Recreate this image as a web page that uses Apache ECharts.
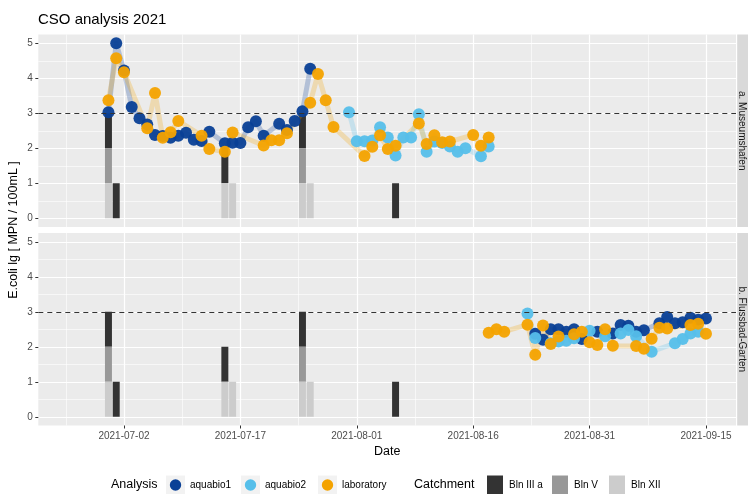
<!DOCTYPE html>
<html>
<head>
<meta charset="utf-8">
<script src="https://cdn.jsdelivr.net/npm/echarts@6.0.0/dist/echarts.min.js"></script>
<style>
  html, body { margin: 0; padding: 0; background: #ffffff; }
  #chart { width: 748px; height: 494px; }
</style>
</head>
<body>
<div id="chart"></div>
<script>
// ---- data -------------------------------------------------------------
const facetNames = ['a. Museumshafen', 'b. Flussbad-Garten'];
const analysisNames = ['aquabio1', 'aquabio2', 'laboratory'];
const analysisColors = ['#0a4096', '#56bfea', '#f4a300'];
const catchmentNames = ['Bln III a', 'Bln V', 'Bln XII'];
const catchmentColors = ['#333333', '#989898', '#cccccc'];

// E.coli lg [MPN/100mL] per sampling day
const museumAquabio1 = [
  ['2021-06-30', 3.03], ['2021-07-01', 5.0], ['2021-07-02', 4.22], ['2021-07-03', 3.18],
  ['2021-07-04', 2.86], ['2021-07-05', 2.68], ['2021-07-06', 2.38], ['2021-07-07', 2.35],
  ['2021-07-08', 2.3], ['2021-07-09', 2.36], ['2021-07-10', 2.44], ['2021-07-11', 2.24],
  ['2021-07-12', 2.21], ['2021-07-13', 2.47], ['2021-07-15', 2.14], ['2021-07-16', 2.16],
  ['2021-07-17', 2.15], ['2021-07-18', 2.6], ['2021-07-19', 2.77], ['2021-07-20', 2.36],
  ['2021-07-22', 2.7], ['2021-07-23', 2.52], ['2021-07-24', 2.78], ['2021-07-25', 3.06],
  ['2021-07-26', 4.27]
];
const museumAquabio2 = [
  ['2021-07-31', 3.03], ['2021-08-01', 2.2], ['2021-08-02', 2.2], ['2021-08-03', 2.22],
  ['2021-08-04', 2.6], ['2021-08-05', 2.31], ['2021-08-06', 1.79], ['2021-08-07', 2.31],
  ['2021-08-08', 2.31], ['2021-08-09', 2.97], ['2021-08-10', 1.9], ['2021-08-11', 2.19],
  ['2021-08-12', 2.15], ['2021-08-13', 2.05], ['2021-08-14', 1.9], ['2021-08-15', 2.0],
  ['2021-08-17', 1.77], ['2021-08-18', 2.05]
];
const museumLaboratory = [
  ['2021-06-30', 3.37], ['2021-07-01', 4.57], ['2021-07-02', 4.17], ['2021-07-05', 2.57],
  ['2021-07-06', 3.58], ['2021-07-07', 2.3], ['2021-07-08', 2.46], ['2021-07-09', 2.78],
  ['2021-07-12', 2.36], ['2021-07-13', 1.98], ['2021-07-15', 1.9], ['2021-07-16', 2.45],
  ['2021-07-20', 2.08], ['2021-07-21', 2.23], ['2021-07-22', 2.23], ['2021-07-23', 2.43],
  ['2021-07-26', 3.3], ['2021-07-27', 4.12], ['2021-07-28', 3.37], ['2021-07-29', 2.61],
  ['2021-08-02', 1.78], ['2021-08-03', 2.04], ['2021-08-04', 2.37], ['2021-08-05', 1.98],
  ['2021-08-06', 2.07], ['2021-08-09', 2.71], ['2021-08-10', 2.12], ['2021-08-11', 2.37],
  ['2021-08-12', 2.17], ['2021-08-13', 2.19], ['2021-08-16', 2.38], ['2021-08-17', 2.07],
  ['2021-08-18', 2.31]
];
const flussbadAquabio1 = [
  ['2021-08-24', 2.37], ['2021-08-25', 2.2], ['2021-08-26', 2.5], ['2021-08-27', 2.5],
  ['2021-08-28', 2.43], ['2021-08-29', 2.5], ['2021-08-30', 2.22], ['2021-09-01', 2.43],
  ['2021-09-03', 2.38], ['2021-09-04', 2.62], ['2021-09-05', 2.6], ['2021-09-06', 2.43],
  ['2021-09-07', 2.47], ['2021-09-09', 2.67], ['2021-09-10', 2.85], ['2021-09-11', 2.67],
  ['2021-09-12', 2.7], ['2021-09-13', 2.83], ['2021-09-14', 2.77], ['2021-09-15', 2.81]
];
const flussbadAquabio2 = [
  ['2021-08-23', 2.95], ['2021-08-24', 2.25], ['2021-08-26', 2.1], ['2021-08-27', 2.15],
  ['2021-08-28', 2.17], ['2021-08-29', 2.24], ['2021-08-31', 2.46], ['2021-09-02', 2.3],
  ['2021-09-04', 2.38], ['2021-09-05', 2.48], ['2021-09-06', 2.3], ['2021-09-08', 1.86],
  ['2021-09-11', 2.1], ['2021-09-12', 2.22], ['2021-09-13', 2.38], ['2021-09-14', 2.43]
];
const flussbadLaboratory = [
  ['2021-08-18', 2.4], ['2021-08-19', 2.5], ['2021-08-20', 2.43], ['2021-08-23', 2.63],
  ['2021-08-24', 1.77], ['2021-08-25', 2.61], ['2021-08-26', 2.08], ['2021-08-27', 2.29],
  ['2021-08-29', 2.36], ['2021-08-30', 2.43], ['2021-08-31', 2.13], ['2021-09-01', 2.05],
  ['2021-09-02', 2.5], ['2021-09-03', 2.03], ['2021-09-06', 2.02], ['2021-09-07', 1.94],
  ['2021-09-08', 2.23], ['2021-09-09', 2.54], ['2021-09-10', 2.52], ['2021-09-13', 2.62],
  ['2021-09-14', 2.66], ['2021-09-15', 2.37]
];

// days with a combined sewer overflow, per catchment
const overflowBlnIIIa = ['2021-06-30', '2021-07-01', '2021-07-15', '2021-07-25', '2021-08-06'];
const overflowBlnV = ['2021-06-30', '2021-07-25'];
const overflowBlnXII = ['2021-06-30', '2021-07-15', '2021-07-16', '2021-07-25', '2021-07-26'];

const dateTicks = ['2021-07-02', '2021-07-17', '2021-08-01', '2021-08-16', '2021-08-31', '2021-09-15'];
const valueTicks = [0, 1, 2, 3, 4, 5];
const threshold = 3;

// ---- helpers ----------------------------------------------------------
const DAY_MS = 86400000;
const ORIGIN = Date.UTC(2021, 6, 2);
function dayOf(s) {
  const p = s.split('-').map(Number);
  return (Date.UTC(p[0], p[1] - 1, p[2]) - ORIGIN) / DAY_MS;
}
const X_MIN = -11.04, X_MAX = 78.87;     // x range in days from 2021-07-02
const Y_MIN = -0.25, Y_MAX = 5.25;
const BAR_HALF = 0.45;

const tickDays = dateTicks.map(dayOf);
const minorDays = [];
for (let i = 0; i <= tickDays.length; i++) {
  const v = (i === 0 ? tickDays[0] - 15 : tickDays[i - 1]) + 7.5;
  if (v > X_MIN && v < X_MAX) minorDays.push(v);
}
const minorValues = valueTicks.slice(0, -1).map(v => v + 0.5);
const labelByDay = {};
dateTicks.forEach((s, i) => { labelByDay[tickDays[i]] = s; });

const FONT = 'Liberation Sans, Arial, Helvetica, sans-serif';

// stacked catchment bars: XII at the bottom, then V, then III a
const stackOrder = [
  [overflowBlnXII, 2], [overflowBlnV, 1], [overflowBlnIIIa, 0]
];
const barData = [[], [], []];
const stackHeight = {};
stackOrder.forEach(([dates, ci]) => {
  dates.forEach(s => {
    const d = dayOf(s);
    const base = stackHeight[d] || 0;
    barData[ci].push([d, base, base + 1]);
    stackHeight[d] = base + 1;
  });
});

const panels = [
  [museumAquabio1, museumAquabio2, museumLaboratory],
  [flussbadAquabio1, flussbadAquabio2, flussbadLaboratory]
];

// ---- layout -----------------------------------------------------------
const PLOT_LEFT = 38.3, PLOT_WIDTH = 697.7, PANEL_H = 192.5;
const PANEL_TOPS = [34.5, 233];

const grid = PANEL_TOPS.map(t => ({
  left: PLOT_LEFT, top: t, width: PLOT_WIDTH, height: PANEL_H,
  show: true, backgroundColor: '#EBEBEB', borderWidth: 0
}));

const xAxis = [], yAxis = [];
PANEL_TOPS.forEach((t, gi) => {
  const bottom = gi === PANEL_TOPS.length - 1;
  xAxis.push({
    type: 'value', gridIndex: gi, min: X_MIN, max: X_MAX, position: 'bottom',
    axisLine: { show: false, onZero: false },
    axisTick: { show: bottom, customValues: tickDays, length: 3, lineStyle: { color: '#333333', width: 1 } },
    axisLabel: {
      show: bottom, customValues: tickDays, formatter: v => labelByDay[v] || '',
      color: '#4D4D4D', fontSize: 10, fontFamily: FONT, margin: 5.5
    },
    splitLine: { show: true, lineStyle: { color: '#ffffff', width: 1.2 } },
    name: bottom ? 'Date' : '', nameLocation: 'middle', nameGap: 20,
    nameTextStyle: { color: '#000000', fontSize: 12.5, fontFamily: FONT }
  });
  xAxis.push({
    type: 'value', gridIndex: gi, min: X_MIN, max: X_MAX, position: 'bottom',
    axisLine: { show: false, onZero: false },
    axisTick: { show: false, customValues: minorDays },
    axisLabel: { show: false },
    splitLine: { show: true, lineStyle: { color: '#ffffff', width: 0.6 } }
  });
  yAxis.push({
    type: 'value', gridIndex: gi, min: Y_MIN, max: Y_MAX, position: 'left',
    axisLine: { show: false, onZero: false },
    axisTick: { show: true, customValues: valueTicks, length: 3, lineStyle: { color: '#333333', width: 1 } },
    axisLabel: {
      show: true, customValues: valueTicks, color: '#4D4D4D', fontSize: 10,
      fontFamily: FONT, margin: 5.5
    },
    splitLine: { show: true, lineStyle: { color: '#ffffff', width: 1.2 } }
  });
  yAxis.push({
    type: 'value', gridIndex: gi, min: Y_MIN, max: Y_MAX, position: 'left',
    axisLine: { show: false, onZero: false },
    axisTick: { show: false, customValues: minorValues },
    axisLabel: { show: false },
    splitLine: { show: true, lineStyle: { color: '#ffffff', width: 0.6 } }
  });
});

const series = [];
panels.forEach((sets, gi) => {
  const xi = gi * 2, yi = gi * 2;
  catchmentNames.forEach((name, ci) => {
    series.push({
      type: 'custom', name, xAxisIndex: xi, yAxisIndex: yi, z: 2,
      data: barData[ci],
      encode: { x: 0, y: [1, 2] },
      renderItem(params, api) {
        const x = api.value(0);
        const a = api.coord([x - BAR_HALF, api.value(2)]);
        const b = api.coord([x + BAR_HALF, api.value(1)]);
        return {
          type: 'rect',
          shape: { x: a[0], y: a[1], width: b[0] - a[0], height: b[1] - a[1] },
          style: { fill: catchmentColors[ci] }
        };
      }
    });
  });
  sets.forEach((set, ai) => {
    const data = set.map(([d, v]) => [dayOf(d), v]);
    series.push({
      type: 'line', name: analysisNames[ai], xAxisIndex: xi, yAxisIndex: yi, z: 3,
      data, showSymbol: false, symbol: 'none', silent: true,
      lineStyle: { color: analysisColors[ai], width: 5, opacity: 0.25, cap: 'round', join: 'round' }
    });
  });
  sets.forEach((set, ai) => {
    const data = set.map(([d, v]) => [dayOf(d), v]);
    const s = {
      type: 'scatter', name: analysisNames[ai], xAxisIndex: xi, yAxisIndex: yi, z: 4,
      data, symbolSize: 12,
      itemStyle: { color: analysisColors[ai], opacity: 0.95 }
    };
    if (ai === sets.length - 1) {
      s.markLine = {
        silent: true, symbol: ['none', 'none'], z: 10, animation: false,
        label: { show: false },
        lineStyle: { color: '#333333', width: 1.1, type: [5, 4] },
        data: [{ yAxis: threshold }]
      };
    }
    series.push(s);
  });
});

// ---- strips, axis title and legend -------------------------------------
const graphic = [];
PANEL_TOPS.forEach((t, gi) => {
  graphic.push({
    type: 'rect', left: PLOT_LEFT + PLOT_WIDTH + 1.2, top: t,
    shape: { width: 20, height: PANEL_H }, style: { fill: '#D9D9D9' }, silent: true
  });
  graphic.push({
    type: 'text', x: PLOT_LEFT + PLOT_WIDTH + 6, y: t + PANEL_H / 2, rotation: -Math.PI / 2,
    style: {
      text: facetNames[gi], fill: '#1A1A1A', fontSize: 10, fontFamily: FONT,
      align: 'center', verticalAlign: 'middle'
    }, silent: true
  });
});
graphic.push({
  type: 'text', x: 14, y: PANEL_TOPS[0] + (PANEL_TOPS[1] + PANEL_H - PANEL_TOPS[0]) / 2,
  rotation: Math.PI / 2,
  style: {
    text: 'E.coli lg [ MPN / 100mL ]', fill: '#000000', fontSize: 12.5, fontFamily: FONT,
    align: 'center', verticalAlign: 'middle'
  }, silent: true
});

const LEG_Y = 485;
graphic.push({
  type: 'text', x: 111, y: LEG_Y,
  style: { text: 'Analysis', fill: '#000000', fontSize: 12.5, fontFamily: FONT, verticalAlign: 'middle' }
});
const analysisKeyX = [166, 241, 318];
const AKEY = 19;
analysisNames.forEach((n, i) => {
  graphic.push({ type: 'rect', shape: { x: analysisKeyX[i], y: LEG_Y - AKEY / 2, width: AKEY, height: AKEY }, style: { fill: '#F2F2F2' } });
  graphic.push({ type: 'circle', shape: { cx: analysisKeyX[i] + AKEY / 2, cy: LEG_Y, r: 5.7 }, style: { fill: analysisColors[i] } });
  graphic.push({
    type: 'text', x: analysisKeyX[i] + AKEY + 5, y: LEG_Y,
    style: { text: n, fill: '#000000', fontSize: 10, fontFamily: FONT, verticalAlign: 'middle' }
  });
});
graphic.push({
  type: 'text', x: 414, y: LEG_Y,
  style: { text: 'Catchment', fill: '#000000', fontSize: 12.5, fontFamily: FONT, verticalAlign: 'middle' }
});
const catchKeyX = [487, 552, 609];
const CKEY_W = 16, CKEY_H = 19;
catchmentNames.forEach((n, i) => {
  graphic.push({ type: 'rect', shape: { x: catchKeyX[i], y: LEG_Y - CKEY_H / 2, width: CKEY_W, height: CKEY_H }, style: { fill: catchmentColors[i] } });
  graphic.push({
    type: 'text', x: catchKeyX[i] + CKEY_W + 6, y: LEG_Y,
    style: { text: n, fill: '#000000', fontSize: 10, fontFamily: FONT, verticalAlign: 'middle' }
  });
});

const chart = echarts.init(document.getElementById('chart'), null, { renderer: 'canvas' });
chart.setOption({
  animation: false,
  backgroundColor: '#ffffff',
  title: {
    text: 'CSO analysis 2021', left: 38, top: 12, padding: 0,
    textStyle: { color: '#000000', fontSize: 15, fontWeight: 'normal', fontFamily: FONT }
  },
  grid, xAxis, yAxis, series, graphic
});
</script>
</body>
</html>
